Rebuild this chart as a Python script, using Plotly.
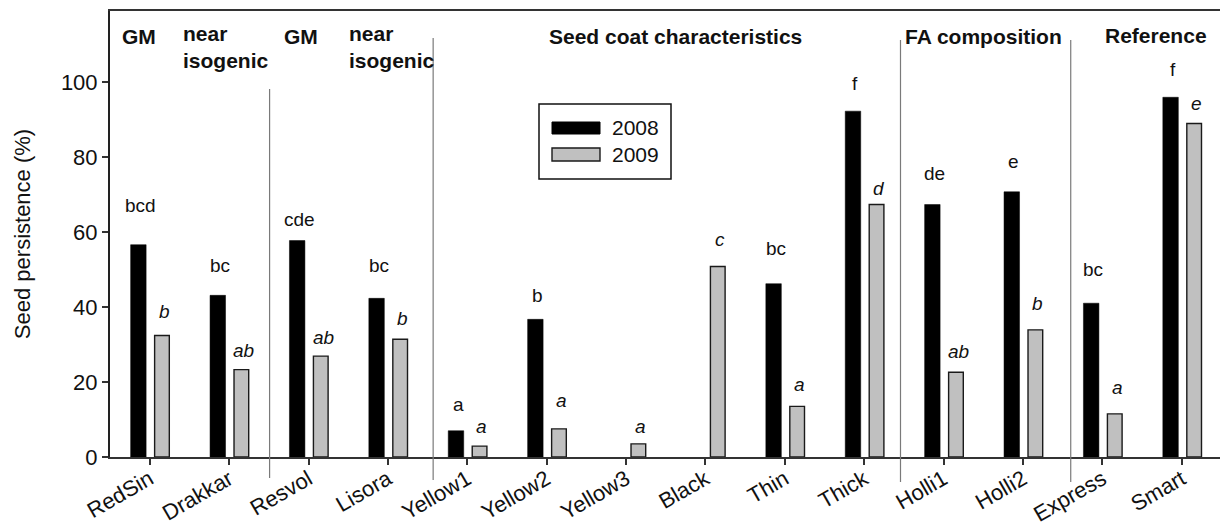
import plotly.graph_objects as go

# ---------------- data ----------------
categories = ["RedSin", "Drakkar", "Resvol", "Lisora", "Yellow1", "Yellow2", "Yellow3",
              "Black", "Thin", "Thick", "Holli1", "Holli2", "Express", "Smart"]
persist_2008 = [56.6, 43.1, 57.7, 42.3, 7.0, 36.7, None, None, 46.2, 92.2, 67.3, 70.7, 41.0, 95.9]
persist_2009 = [32.4, 23.3, 26.9, 31.4, 2.9, 7.5, 3.5, 50.8, 13.5, 67.3, 22.6, 33.9, 11.5, 88.9]
letters_2008 = ["bcd", "bc", "cde", "bc", "a", "b", "", "", "bc", "f", "de", "e", "bc", "f"]
letters_2009 = ["b", "ab", "ab", "b", "a", "a", "a", "c", "a", "d", "ab", "b", "a", "e"]
# height (in %) at which each significance letter sits (top of the hidden error bars)
letter_h_2008 = [67.1, 51.0, 63.4, 51.0, 13.9, 43.0, None, None, 55.5, 99.7, 75.6, 78.8, 50.0, 103.2]
letter_h_2009 = [38.9, 28.3, 31.9, 37.0, 8.1, 15.0, 8.1, 57.9, 19.2, 71.6, 28.1, 40.8, 18.4, 94.3]
series_names = ["2008", "2009"]
group_labels = ["GM", "near<br>isogenic", "GM", "near<br>isogenic",
                "Seed coat characteristics", "FA composition", "Reference"]
y_ticks = [0, 20, 40, 60, 80, 100]
y_title = "Seed persistence (%)"

FONT = "Liberation Sans, Arial, sans-serif"
xs = list(range(len(categories)))

# plot area in pixels (for helpers)
L, R, T, B = 110, 1220, 11, 457


def pxx(x):
    return (x - L) / (R - L)


def pxy(y):
    return (B - y) / (B - T)


fig = go.Figure()
fig.add_trace(go.Bar(x=xs, y=persist_2008, name=series_names[0], width=0.195, offset=-0.24,
                     marker=dict(color="#000000", line=dict(color="#000000", width=0.5)),
                     showlegend=False))
fig.add_trace(go.Bar(x=xs, y=persist_2009, name=series_names[1], width=0.185, offset=0.062,
                     marker=dict(color="#c0c0c0", line=dict(color="#1a1a1a", width=1.4)),
                     showlegend=False))

ann = []
for i, (t, h) in enumerate(zip(letters_2008, letter_h_2008)):
    if t and h is not None:
        ann.append(dict(x=i - 0.115, y=h, xref="x", yref="y", text=t, showarrow=False,
                        font=dict(family=FONT, size=19, color="#111"), yanchor="middle"))
for i, (t, h) in enumerate(zip(letters_2009, letter_h_2009)):
    if t and h is not None:
        ann.append(dict(x=i + 0.185, y=h, xref="x", yref="y", text="<i>" + t + "</i>",
                        showarrow=False, font=dict(family=FONT, size=19, color="#111"),
                        yanchor="middle"))

# group headers
hdr_font = dict(family=FONT, size=21, color="#111")
hdr_pos = [(-0.37, 36, "left"), (0.39, 20, "left"), (1.66, 36, "left"), (2.48, 20, "left"),
           (6.62, 37, "center"), (10.5, 37, "center"), (12.68, 35, "center")]
for lab, (x, y, anc) in zip(group_labels, hdr_pos):
    ann.append(dict(x=x, y=pxy(y), xref="x", yref="paper", text="<b>" + lab + "</b>",
                    showarrow=False, font=hdr_font, xanchor=anc,
                    yanchor="top" if "<br>" in lab else "middle", align="left"))

shapes = []
# separators
for x, top, bot in [(1.51, 89, 478), (3.57, 38, 480), (9.456, 40, 482), (11.6, 40, 482)]:
    shapes.append(dict(type="line", xref="x", yref="paper", x0=x, x1=x, y0=pxy(bot), y1=pxy(top),
                       line=dict(color="#7a7a7a", width=1.2)))

# custom legend
shapes.append(dict(type="rect", xref="paper", yref="paper", x0=pxx(539), x1=pxx(671),
                   y0=pxy(179), y1=pxy(104), line=dict(color="#111", width=1.5), fillcolor="white"))
shapes.append(dict(type="rect", xref="paper", yref="paper", x0=pxx(552), x1=pxx(600),
                   y0=pxy(134), y1=pxy(122), line=dict(color="#000", width=1), fillcolor="#000"))
shapes.append(dict(type="rect", xref="paper", yref="paper", x0=pxx(552), x1=pxx(600),
                   y0=pxy(161), y1=pxy(148), line=dict(color="#1a1a1a", width=1.4), fillcolor="#c0c0c0"))
for name, yy in zip(series_names, [128, 154]):
    ann.append(dict(x=pxx(610), y=pxy(yy), xref="paper", yref="paper", text=name, showarrow=False,
                    xanchor="left", yanchor="middle", font=dict(family=FONT, size=21, color="#111")))

fig.update_layout(
    width=1220, height=528,
    margin=dict(l=L, r=0, t=T, b=528 - B, pad=0, autoexpand=False),
    paper_bgcolor="white", plot_bgcolor="white",
    barmode="overlay",
    font=dict(family=FONT, color="#111"),
    annotations=ann, shapes=shapes,
    showlegend=False,
)
fig.update_xaxes(range=[-0.5, 13.48], tickmode="array", tickvals=xs, ticktext=categories,
                 tickangle=-30, tickfont=dict(family=FONT, size=22, color="#111"),
                 ticklabelstandoff=-7,
                 ticks="outside", ticklen=6, tickwidth=1.5, tickcolor="#333",
                 showline=True, linecolor="#333", linewidth=1.6, mirror=True,
                 showgrid=False, zeroline=False, automargin=False)
fig.update_yaxes(range=[0, 118.9], tickmode="array", tickvals=y_ticks,
                 tickfont=dict(family=FONT, size=22, color="#111"),
                 ticks="outside", ticklen=6, tickwidth=1.5, tickcolor="#333",
                 showline=True, linecolor="#222", linewidth=2,
                 showgrid=False, zeroline=False, automargin=False,
                 title=dict(text=y_title, font=dict(family=FONT, size=22, color="#111"), standoff=24))

fig.write_html("out.html")
